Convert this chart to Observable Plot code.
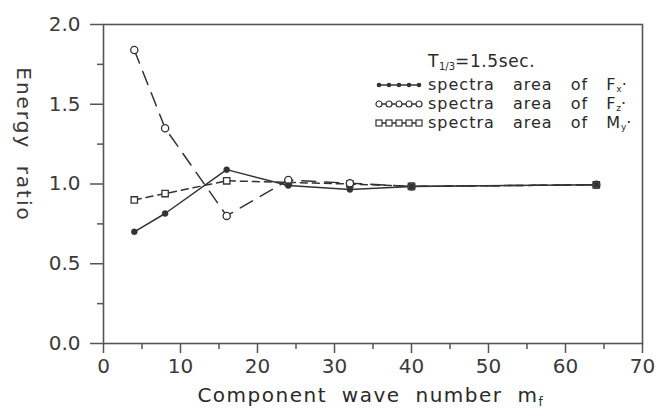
<!DOCTYPE html>
<html>
<head>
<meta charset="utf-8">
<script src="https://cdn.jsdelivr.net/npm/d3@7"></script>
<script src="https://cdn.jsdelivr.net/npm/@observablehq/plot@0.6"></script>
<style>
  html, body { margin: 0; padding: 0; background: #fff; }
  #wrap { position: relative; width: 658px; height: 414px; font-family: "DejaVu Sans", sans-serif; color: #2a2a2a; }
  #wrap svg { display: block; }
  .xlabel { position: absolute; left: 0; width: 740px; top: 383px; text-align: center; font-size: 20px; letter-spacing: 1.5px; word-spacing: 7px; white-space: nowrap; }
  .xlabel sub { font-size: 12px; vertical-align: -4px; letter-spacing: 0; }
  .legend { position: absolute; left: 375px; top: 50px; font-size: 16px; letter-spacing: 1px; word-spacing: 12px; white-space: nowrap; }
  .legend .title { position: absolute; left: 53px; top: 2px; word-spacing: 0; letter-spacing: 0.6px; font-size: 17px; line-height: 19px; }
  .legend .title sub { font-size: 10px; vertical-align: -3px; line-height: 0; letter-spacing: 0; }
  .legend .row { position: absolute; left: 0; height: 19px; line-height: 19px; }
  .legend .row svg { position: absolute; left: 0; top: 4px; }
  .legend .row span { position: absolute; left: 53px; top: 0; }
  .legend .row sub { font-size: 9px; vertical-align: -2px; line-height: 0; letter-spacing: 0; }
</style>
</head>
<body>
<div id="wrap"></div>
<script>
// ---- data ----
const mf = [4, 8, 16, 24, 32, 40, 64];
const Fx = [0.70, 0.815, 1.09, 0.99, 0.965, 0.985, 0.995];
const Fz = [1.84, 1.35, 0.80, 1.025, 1.005, 0.985, 0.995];
const My = [0.90, 0.94, 1.02, 1.01, 1.00, 0.985, 0.995];
const xTicks = [0, 10, 20, 30, 40, 50, 60, 70];
const xMinor = [5, 15, 25, 35, 45, 55, 65];
const yTicks = [0, 0.5, 1.0, 1.5, 2.0];
const yMinor = [0.25, 0.75, 1.25, 1.75];
const seriesNames = ["Fx", "Fz", "My"];
const seriesSubs = ["x", "z", "y"];
const seriesBase = ["F", "F", "M"];
const yTitle = "Energy ratio";
const xTitle = "Component wave number m";
const xTitleSub = "f";

const data = [];
mf.forEach((m, i) => {
  data.push({m, v: Fx[i], s: "Fx"});
  data.push({m, v: Fz[i], s: "Fz"});
  data.push({m, v: My[i], s: "My"});
});
const sel = s => data.filter(d => d.s === s);

const ink = "#333";
const axisInk = "#555";

const plot = Plot.plot({
  width: 658,
  height: 414,
  marginLeft: 103,
  marginRight: 16,
  marginTop: 24,
  marginBottom: 71,
  style: {fontFamily: "DejaVu Sans, sans-serif", fontSize: "20px", color: "#3a3a3a", background: "#fff"},
  x: {domain: [0, 70]},
  y: {domain: [0, 2]},
  marks: [
    Plot.axisX({ticks: xTicks, tickSize: 10, tickPadding: 5, tickFormat: d => String(d), label: null, stroke: axisInk, strokeWidth: 1.5, fontSize: 20}),
    Plot.axisX({ticks: xMinor, tickSize: 6, tickFormat: () => "", label: null, stroke: axisInk, strokeWidth: 1.5}),
    Plot.axisY({ticks: yTicks, tickSize: 13, tickPadding: 10, tickFormat: d3.format(".1f"), label: null, stroke: axisInk, strokeWidth: 1.5, fontSize: 20}),
    Plot.axisY({ticks: yMinor, tickSize: 6, tickFormat: () => "", label: null, stroke: axisInk, strokeWidth: 1.5}),
    Plot.frame({stroke: axisInk, strokeWidth: 1.6}),
    Plot.line(sel("Fx"), {x: "m", y: "v", stroke: ink, strokeWidth: 1.5}),
    Plot.line(sel("Fz"), {x: "m", y: "v", stroke: ink, strokeWidth: 1.5, strokeDasharray: "14,9"}),
    Plot.line(sel("My"), {x: "m", y: "v", stroke: ink, strokeWidth: 1.5, strokeDasharray: "7,5"}),
    Plot.dot(sel("My"), {x: "m", y: "v", symbol: "square", r: 3.6, stroke: ink, strokeWidth: 1.3, fill: "#fff"}),
    Plot.dot(sel("Fz"), {x: "m", y: "v", r: 3.6, stroke: ink, strokeWidth: 1.3, fill: "#fff"}),
    Plot.dot(sel("Fx"), {x: "m", y: "v", r: 3, fill: ink, stroke: ink, strokeWidth: 0.5}),
    Plot.text([yTitle], {frameAnchor: "top-left", dx: -80, dy: 120, rotate: 90, textAnchor: "middle", lineAnchor: "middle", fontSize: 20, fill: "#3a3a3a", text: d => d})
  ]
});
plot.querySelectorAll("text").forEach(t => { if (t.textContent === yTitle) t.setAttribute("style", "letter-spacing:2px;word-spacing:8px"); });

const wrap = document.getElementById("wrap");
wrap.appendChild(plot);

const xl = document.createElement("div");
xl.className = "xlabel";
xl.innerHTML = xTitle + "<sub>" + xTitleSub + "</sub>";
wrap.appendChild(xl);

// legend
function symbolSvg(s) {
  const ns = "http://www.w3.org/2000/svg";
  const svg = document.createElementNS(ns, "svg");
  svg.setAttribute("width", 48); svg.setAttribute("height", 12);
  const ln = document.createElementNS(ns, "line");
  ln.setAttribute("x1", 2); ln.setAttribute("x2", 46); ln.setAttribute("y1", 6); ln.setAttribute("y2", 6);
  ln.setAttribute("stroke", ink); ln.setAttribute("stroke-width", 1.3);
  svg.appendChild(ln);
  for (let k = 0; k < 5; k++) {
    const cx = 4 + k * 10;
    let el;
    if (s === "Fx") { el = document.createElementNS(ns, "circle"); el.setAttribute("cx", cx); el.setAttribute("cy", 6); el.setAttribute("r", 2.3); el.setAttribute("fill", ink); }
    else if (s === "Fz") { el = document.createElementNS(ns, "circle"); el.setAttribute("cx", cx); el.setAttribute("cy", 6); el.setAttribute("r", 3); el.setAttribute("fill", "#fff"); el.setAttribute("stroke", ink); el.setAttribute("stroke-width", 1.2); }
    else { el = document.createElementNS(ns, "rect"); el.setAttribute("x", cx - 3); el.setAttribute("y", 3); el.setAttribute("width", 6); el.setAttribute("height", 6); el.setAttribute("fill", "#fff"); el.setAttribute("stroke", ink); el.setAttribute("stroke-width", 1.2); }
    svg.appendChild(el);
  }
  return svg;
}
const lg = document.createElement("div");
lg.className = "legend";
const tt = document.createElement("div");
tt.className = "title";
tt.innerHTML = "T<sub>1/3</sub>=1.5sec.";
lg.appendChild(tt);
seriesNames.forEach((s, i) => {
  const r = document.createElement("div");
  r.className = "row";
  r.style.top = (25 + i * 19) + "px";
  r.appendChild(symbolSvg(s));
  const sp = document.createElement("span");
  sp.innerHTML = "spectra area of " + seriesBase[i] + "<sub>" + seriesSubs[i] + "</sub>&#183;";
  r.appendChild(sp);
  lg.appendChild(r);
});
wrap.appendChild(lg);
</script>
</body>
</html>
